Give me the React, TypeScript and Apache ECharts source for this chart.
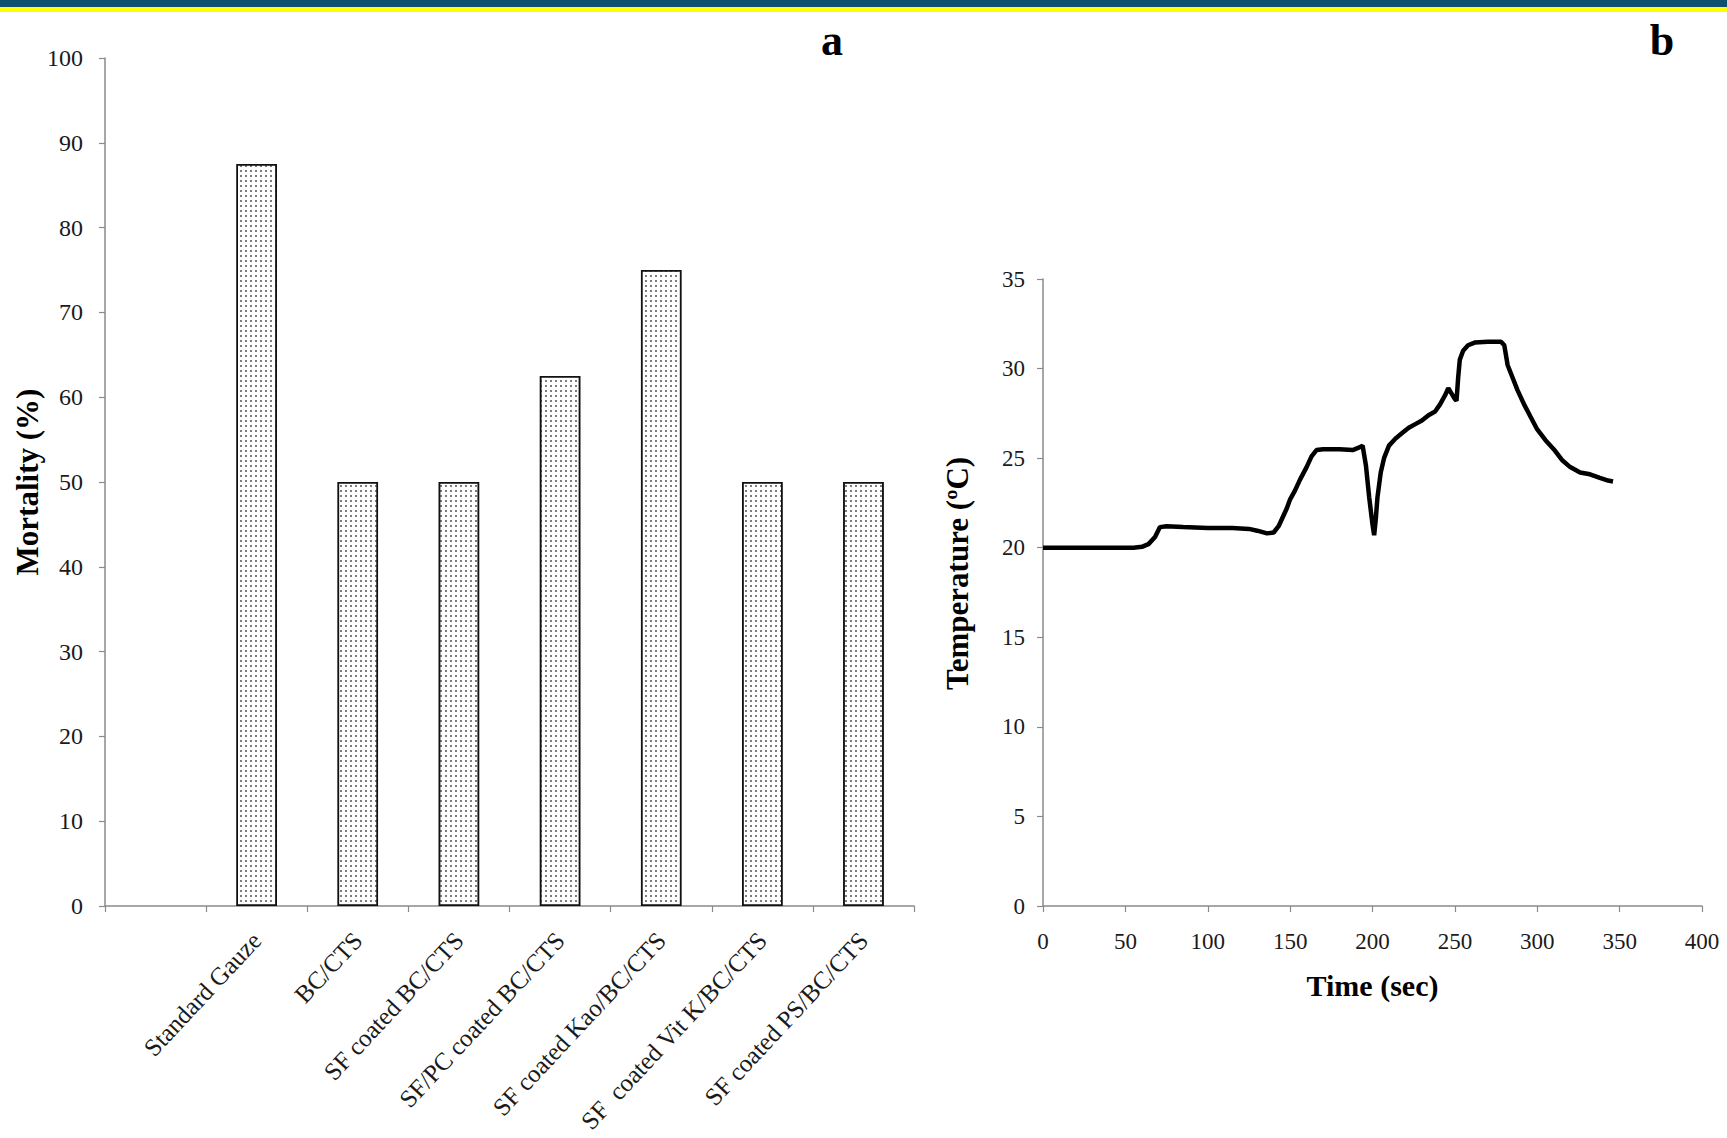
import { useEffect, useRef } from "react";
import * as echarts from "echarts";

// ---- Panel a: mortality bar chart ----
const barCategories = [
  "",
  "Standard Gauze",
  "BC/CTS",
  "SF coated BC/CTS",
  "SF/PC coated BC/CTS",
  "SF coated Kao/BC/CTS",
  "SF  coated Vit K/BC/CTS",
  "SF coated PS/BC/CTS",
];
const mortality = [null, 87.5, 50, 50, 62.5, 75, 50, 50];

// ---- Panel b: temperature vs time ----
const timeSec = [
  0, 55, 60, 64, 68, 71, 75, 85, 100, 115, 125, 130, 136, 140, 143, 146, 148, 150, 153, 156,
  160, 163, 166, 170, 180, 188, 192, 194, 196, 198, 200, 201, 202, 203, 205, 207, 210, 214,
  218, 222, 226, 230, 234, 238, 241, 244, 246, 248, 250, 251, 252, 253, 255, 258, 262, 270,
  278, 280, 282, 285, 288, 292, 296, 300, 305, 310, 315, 320, 326, 332, 338, 343, 346,
];
const temperature = [
  20.0, 20.0, 20.05, 20.2, 20.6, 21.15, 21.2, 21.15, 21.1, 21.1, 21.05, 20.95, 20.8, 20.85,
  21.2, 21.8, 22.2, 22.7, 23.2, 23.8, 24.5, 25.1, 25.45, 25.5, 25.5, 25.45, 25.6, 25.7, 24.6,
  22.8, 21.3, 20.7, 21.6, 22.8, 24.2, 25.0, 25.7, 26.1, 26.4, 26.7, 26.9, 27.1, 27.4, 27.6,
  28.0, 28.5, 28.9, 28.6, 28.3, 28.2, 29.5, 30.5, 31.0, 31.3, 31.45, 31.5, 31.5, 31.3, 30.2,
  29.5, 28.8, 28.0, 27.3, 26.6, 26.0, 25.5, 24.9, 24.5, 24.2, 24.1, 23.9, 23.75, 23.7,
];

const FONT = "'Liberation Serif', 'Times New Roman', serif";
const AXIS_GRAY = "#8a8a8a";
const TEXT = "#1a1a1a";

export default function App() {
  const ref = useRef<HTMLDivElement>(null);

  useEffect(() => {
    if (!ref.current) return;
    const chart = echarts.init(ref.current, null, { renderer: "svg" });

    const axisLineStyle = { show: true, lineStyle: { color: AXIS_GRAY, width: 1.5 } };
    const tickStyle = { show: true, length: 6, lineStyle: { color: AXIS_GRAY, width: 1.2 } };

    const option: any = {
      animation: false,
      backgroundColor: "#ffffff",
      textStyle: { fontFamily: FONT },
      grid: [
        { left: 105, top: 58, width: 809, height: 848 },
        { left: 1043, top: 279, width: 659, height: 627 },
      ],
      xAxis: [
        {
          gridIndex: 0,
          type: "category",
          data: barCategories,
          boundaryGap: true,
          axisLine: axisLineStyle,
          axisTick: tickStyle,
          axisLabel: {
            interval: 0,
            rotate: 47,
            margin: 30,
            fontFamily: FONT,
            fontSize: 25,
            color: TEXT,
          },
        },
        {
          gridIndex: 1,
          type: "value",
          min: 0,
          max: 400,
          interval: 50,
          splitLine: { show: false },
          axisLine: axisLineStyle,
          axisTick: tickStyle,
          axisLabel: { margin: 24, fontFamily: FONT, fontSize: 23, color: TEXT },
          name: "Time (sec)",
          nameLocation: "middle",
          nameGap: 64,
          nameTextStyle: { fontFamily: FONT, fontSize: 30, fontWeight: "bold", color: "#000" },
        },
      ],
      yAxis: [
        {
          gridIndex: 0,
          type: "value",
          min: 0,
          max: 100,
          interval: 10,
          splitLine: { show: false },
          axisLine: axisLineStyle,
          axisTick: tickStyle,
          axisLabel: { margin: 22, fontFamily: FONT, fontSize: 24, color: TEXT },
          name: "Mortality (%)",
          nameLocation: "middle",
          nameGap: 60,
          nameTextStyle: { fontFamily: FONT, fontSize: 31, fontWeight: "bold", color: "#000" },
        },
        {
          gridIndex: 1,
          type: "value",
          min: 0,
          max: 35,
          interval: 5,
          splitLine: { show: false },
          axisLine: axisLineStyle,
          axisTick: tickStyle,
          axisLabel: { margin: 18, fontFamily: FONT, fontSize: 23, color: TEXT },
          name: "Temperature (ºC)",
          nameLocation: "middle",
          nameGap: 70,
          nameTextStyle: {
            fontFamily: FONT,
            fontSize: 31,
            fontWeight: "bold",
            color: "#000",
            padding: [0, 0, 0, 38],
          },
        },
      ],
      series: [
        {
          type: "bar",
          xAxisIndex: 0,
          yAxisIndex: 0,
          data: mortality,
          barWidth: "40%",
          itemStyle: {
            color: "#ffffff",
            borderColor: "#111",
            borderWidth: 1.5,
            decal: {
              symbol: "rect",
              symbolSize: 0.8,
              color: "#222",
              backgroundColor: null,
              dashArrayX: [2, 3],
              dashArrayY: [2, 3],
              rotation: 0,
            },
          },
        },
        {
          type: "line",
          xAxisIndex: 1,
          yAxisIndex: 1,
          data: timeSec.map((t, i) => [t, temperature[i]]),
          showSymbol: false,
          symbol: "none",
          lineStyle: { color: "#000", width: 4.5 },
        },
      ],
      graphic: [
        { type: "rect", shape: { x: 0, y: 0, width: 1727, height: 7 }, style: { fill: "#0f5070" } },
        { type: "rect", shape: { x: 0, y: 7, width: 1727, height: 5 }, style: { fill: "#ffff00" } },
        {
          type: "text",
          x: 832,
          y: 40,
          style: {
            text: "a",
            font: `bold 44px ${FONT}`,
            fill: "#000",
            align: "center",
            verticalAlign: "middle",
          },
        },
        {
          type: "text",
          x: 1662,
          y: 40,
          style: {
            text: "b",
            font: `bold 44px ${FONT}`,
            fill: "#000",
            align: "center",
            verticalAlign: "middle",
          },
        },
      ],
    };

    chart.setOption(option);
    return () => chart.dispose();
  }, []);

  return (
    <div
      ref={ref}
      style={{ position: "fixed", left: 0, top: 0, width: 1727, height: 1138, background: "#fff" }}
    />
  );
}
